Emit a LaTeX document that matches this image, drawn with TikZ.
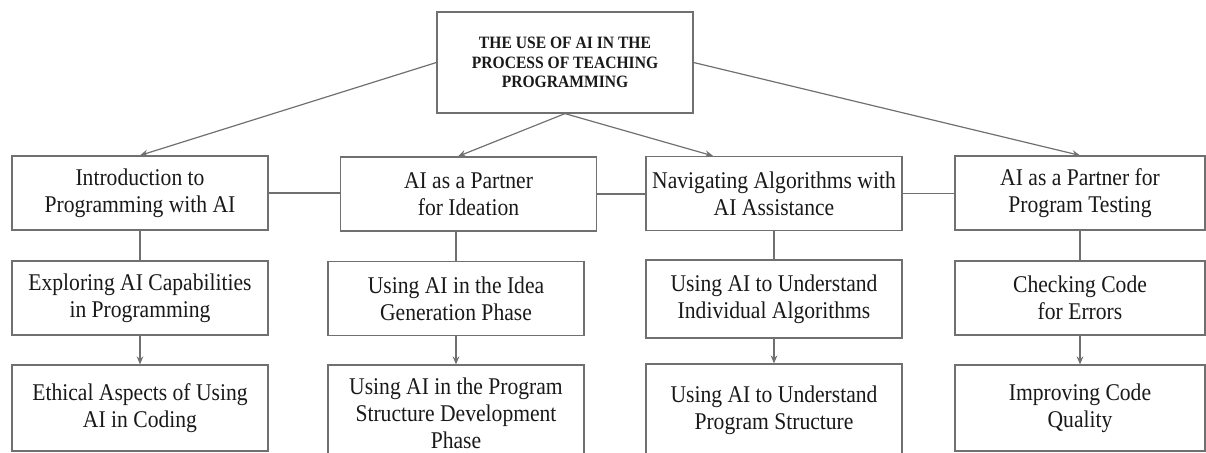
\documentclass[tikz,border=0pt]{standalone}
\usepackage{fontspec}
\setmainfont[FakeStretch=0.9]{Liberation Serif}
\usetikzlibrary{arrows.meta}

\definecolor{linegray}{RGB}{112,112,112}
\tikzset{
  box/.style={draw=linegray, line width=0.9pt, minimum width=192pt, minimum height=55.5pt,
    align=center, inner sep=0pt, text=black!90, font=\fontsize{18}{20.3}\selectfont},
  topbox/.style={box, minimum height=75.75pt, font=\fontsize{13}{14.6}\selectfont\bfseries},
  link/.style={draw=linegray, line width=0.9pt},
  arr/.style={link, -{Stealth[length=6pt,width=5pt]}}
}

\begin{document}
\begin{tikzpicture}[x=0.75pt,y=-0.75pt]

		\clip (0,0) rectangle (1206,453);

		% root
		\node[topbox] (root) at (565,62.5) {THE USE OF AI IN THE\\PROCESS OF TEACHING\\PROGRAMMING};

		% first row
		\node[box] (intro) at (140,193) {Introduction to\\Programming with AI};
		\node[box] (ideation) at (468.5,194) {AI as a Partner\\for Ideation};
		\node[box] (navig) at (774,193.5) {Navigating Algorithms with\\AI Assistance};
		\node[box, minimum width=187.5pt] (testing) at (1080,193) {AI as a Partner for\\Program Testing};

		% second row
		\node[box] (explore) at (140,298) {Exploring AI Capabilities\\in Programming};
		\node[box] (ideagen) at (456,298.5) {Using AI in the Idea\\Generation Phase};
		\node[box, minimum height=58.5pt] (understand) at (774,299) {Using AI to Understand\\Individual Algorithms};
		\node[box, minimum width=187.5pt] (checking) at (1080,298) {Checking Code\\for Errors};

		% third row
		\node[box, minimum height=64.5pt] (ethical) at (140,408) {Ethical Aspects of Using\\AI in Coding};
		\node[box, minimum height=72pt] (structdev) at (456,413) {Using AI in the Program\\Structure Development\\Phase};
		\node[box, minimum height=69pt] (progstruct) at (774,410) {Using AI to Understand\\Program Structure};
		\node[box, minimum width=187.5pt, minimum height=64.5pt] (quality) at (1080,408) {Improving Code\\Quality};

		% root to first row
		\draw[arr] (root.west) -- (intro.north);
		\draw[arr] (root.east) -- (testing.north);
		\draw[arr] (root.south) -- ([xshift=-7.9pt]ideation.north);
		\draw[arr] (root.south) -- ([xshift=-45.75pt]navig.north);

		% first row links
		\draw[link] (intro.east) -- (intro.east -| ideation.west);
		\draw[link] (ideation.east) -- (ideation.east -| navig.west);
		\draw[link] (navig.east) -- (navig.east -| testing.west);

		% down the columns
		\draw[link] (explore.north |- intro.south) -- (explore.north);
		\draw[link] (ideagen.north |- ideation.south) -- (ideagen.north);
		\draw[link] (understand.north |- navig.south) -- (understand.north);
		\draw[link] (checking.north |- testing.south) -- (checking.north);

		\draw[arr] (explore) -- (ethical);
		\draw[arr] (ideagen) -- (structdev);
		\draw[arr] (understand) -- (progstruct);
		\draw[arr] (checking) -- (quality);
	\end{tikzpicture}
\end{document}
